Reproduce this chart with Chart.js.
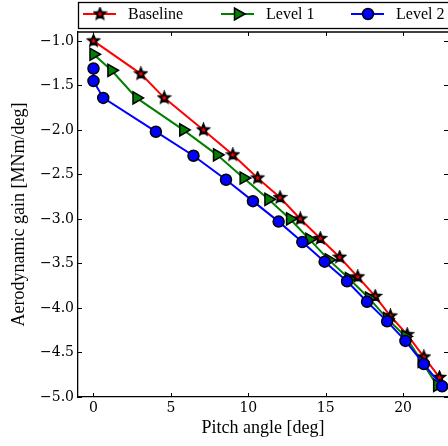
<!DOCTYPE html>
<html>
<head>
<meta charset="utf-8">
<script src="https://cdn.jsdelivr.net/npm/chart.js@4.4.1/dist/chart.umd.min.js"></script>
<style>
  html, body { margin: 0; padding: 0; background: #fff; overflow: hidden; }
  #wrap { width: 448px; height: 446px; }
  canvas { display: block; }
</style>
</head>
<body>
<div id="wrap"><canvas id="chart" width="448" height="446"></canvas></div>
<script>
// Series: pitch angle [deg] vs aerodynamic gain [MNm/deg]
const baselineX = [0, 3.06, 4.57, 7.1, 9.0, 10.6, 12.05, 13.36, 14.65, 15.9, 17.07, 18.2, 19.18, 20.26, 21.34, 22.35];
const baselineY = [-1.0, -1.37, -1.64, -2.0, -2.28, -2.54, -2.76, -3.0, -3.22, -3.43, -3.65, -3.87, -4.09, -4.30, -4.55, -4.78];

const level1X = [0, 1.16, 2.78, 5.8, 7.98, 9.7, 11.3, 12.7, 13.95, 15.2, 16.5, 17.8, 18.97, 20.15, 21.2, 22.2];
const level1Y = [-1.15, -1.33, -1.64, -2.0, -2.28, -2.54, -2.78, -3.0, -3.23, -3.46, -3.67, -3.89, -4.12, -4.32, -4.6, -4.87];

const level2X = [0, 0, 0.63, 4.03, 6.46, 8.56, 10.3, 11.96, 13.49, 14.93, 16.38, 17.67, 18.97, 20.15, 21.34, 22.52];
const level2Y = [-1.31, -1.45, -1.64, -2.02, -2.29, -2.56, -2.80, -3.03, -3.26, -3.48, -3.70, -3.93, -4.15, -4.37, -4.63, -4.88];

const seriesLabels = ['Baseline', 'Level 1', 'Level 2'];
const xTickValues = [0, 5, 10, 15, 20];
const yTickValues = [-5.0, -4.5, -4.0, -3.5, -3.0, -2.5, -2.0, -1.5, -1.0];

const SERIF = '"Liberation Serif", "DejaVu Serif", serif';
const TICKFONT = '"DejaVu Serif", serif';

// build a filled five point star as an image so it looks like the matplotlib '*'
function makeStar(r) {
  const size = Math.ceil(r * 2 + 4);
  const c = document.createElement('canvas');
  c.width = size; c.height = size;
  const g = c.getContext('2d');
  const cx = size / 2, cy = size / 2, inner = r * 0.45;
  g.beginPath();
  for (let i = 0; i < 10; i++) {
    const rad = i % 2 === 0 ? r : inner;
    const a = -Math.PI / 2 + i * Math.PI / 5;
    const px = cx + rad * Math.cos(a), py = cy + rad * Math.sin(a);
    if (i === 0) g.moveTo(px, py); else g.lineTo(px, py);
  }
  g.closePath();
  g.fillStyle = '#ff0000';
  g.fill();
  g.lineWidth = 2;
  g.lineJoin = 'miter';
  g.strokeStyle = '#000';
  g.stroke();
  return c;
}
const starImg = makeStar(5.5);

function toPoints(xs, ys) {
  return xs.map((x, i) => ({ x: x, y: ys[i] }));
}

const datasets = [
  {
    label: seriesLabels[0],
    data: toPoints(baselineX, baselineY),
    borderColor: '#ff0000',
    backgroundColor: '#ff0000',
    borderWidth: 2,
    pointStyle: starImg,
    order: 2
  },
  {
    label: seriesLabels[1],
    data: toPoints(level1X, level1Y),
    borderColor: '#008000',
    backgroundColor: '#008000',
    borderWidth: 2,
    pointStyle: 'triangle',
    pointRotation: 90,
    pointRadius: 7,
    pointBorderColor: '#000',
    pointBorderWidth: 1.5,
    order: 1
  },
  {
    label: seriesLabels[2],
    data: toPoints(level2X, level2Y),
    borderColor: '#0000ff',
    backgroundColor: '#0000ff',
    borderWidth: 2,
    pointStyle: 'circle',
    pointRadius: 5.5,
    pointBorderColor: '#000',
    pointBorderWidth: 1.5,
    order: 0
  }
];

// matplotlib style frame: inward ticks on all four sides plus the top spine
// (the right spine falls just outside the picture in the reference)
const framePlugin = {
  id: 'frame',
  afterDatasetsDraw(chart) {
    const { ctx, chartArea: a, scales } = chart;
    ctx.save();
    ctx.strokeStyle = '#000';
    ctx.lineWidth = 1.3;
    ctx.beginPath();
    ctx.moveTo(a.left, a.top); ctx.lineTo(a.right, a.top);
    ctx.stroke();
    ctx.lineWidth = 1;
    const len = 4;
    scales.x.ticks.forEach(t => {
      const px = Math.round(scales.x.getPixelForValue(t.value)) + 0.5;
      ctx.beginPath();
      ctx.moveTo(px, a.bottom); ctx.lineTo(px, a.bottom - len);
      ctx.moveTo(px, a.top); ctx.lineTo(px, a.top + len);
      ctx.stroke();
    });
    scales.y.ticks.forEach(t => {
      const py = Math.round(scales.y.getPixelForValue(t.value)) + 0.5;
      ctx.beginPath();
      ctx.moveTo(a.left, py); ctx.lineTo(a.left + len, py);
      ctx.moveTo(a.right, py); ctx.lineTo(a.right - len, py);
      ctx.stroke();
    });
    ctx.restore();
  }
};

// legend box sitting above the axes, line + marker samples
const legendPlugin = {
  id: 'boxLegend',
  afterDraw(chart) {
    const { ctx, chartArea: a } = chart;
    ctx.save();
    ctx.strokeStyle = '#000';
    ctx.lineWidth = 1.3;
    ctx.strokeRect(a.left + 0.5, 2.5, 460, 26);
    const cy = 14;
    const starts = [83, 221, 351];
    chart.data.datasets.forEach((ds, i) => {
      const x0 = starts[i];
      ctx.strokeStyle = ds.borderColor;
      ctx.lineWidth = 2;
      ctx.beginPath();
      ctx.moveTo(x0, cy); ctx.lineTo(x0 + 33, cy);
      ctx.stroke();
      const mx = x0 + 17;
      if (i === 0) {
        ctx.drawImage(starImg, mx - starImg.width / 2, cy - starImg.height / 2);
      } else if (i === 1) {
        ctx.beginPath();
        ctx.moveTo(mx + 7, cy);
        ctx.lineTo(mx - 3.5, cy - 6);
        ctx.lineTo(mx - 3.5, cy + 6);
        ctx.closePath();
        ctx.fillStyle = ds.backgroundColor;
        ctx.fill();
        ctx.strokeStyle = '#000';
        ctx.lineWidth = 1.5;
        ctx.stroke();
      } else {
        ctx.beginPath();
        ctx.arc(mx, cy, 5.5, 0, Math.PI * 2);
        ctx.fillStyle = ds.backgroundColor;
        ctx.fill();
        ctx.strokeStyle = '#000';
        ctx.lineWidth = 1.5;
        ctx.stroke();
      }
      ctx.fillStyle = '#000';
      ctx.font = '16px ' + SERIF;
      ctx.textBaseline = 'middle';
      ctx.textAlign = 'left';
      ctx.fillText(ds.label, x0 + 45, cy + 1);
    });
    ctx.restore();
  }
};

new Chart(document.getElementById('chart'), {
  type: 'line',
  data: { datasets: datasets },
  plugins: [framePlugin, legendPlugin],
  options: {
    responsive: false,
    animation: false,
    layout: { autoPadding: false, padding: { top: 32, right: 0, left: 0, bottom: 0 } },
    plugins: {
      legend: { display: false },
      tooltip: { enabled: false }
    },
    scales: {
      x: {
        type: 'linear',
        min: -1,
        max: 22.9,
        afterBuildTicks: s => { s.ticks = xTickValues.map(v => ({ value: v })); },
        afterFit: s => { s.height = 49; s.paddingLeft = 0; s.paddingRight = 0; },
        grid: { display: false, drawTicks: false },
        border: { display: true, color: '#000', width: 1.3 },
        ticks: {
          color: '#000',
          padding: 3,
          maxRotation: 0,
          font: { family: TICKFONT, size: 14 },
          callback: v => String(v)
        },
        title: {
          display: true,
          text: 'Pitch angle [deg]',
          color: '#000',
          font: { family: SERIF, size: 18 },
          padding: { top: 0, bottom: 7 }
        }
      },
      y: {
        type: 'linear',
        min: -5.0,
        max: -0.9,
        afterBuildTicks: s => { s.ticks = yTickValues.map(v => ({ value: v })); },
        afterFit: s => { s.width = 78; },
        grid: { display: false, drawTicks: false },
        border: { display: true, color: '#000', width: 1.3 },
        ticks: {
          color: '#000',
          padding: 4,
          font: { family: TICKFONT, size: 14 },
          callback: v => v.toFixed(1).replace('-', '\u2212')
        },
        title: {
          display: true,
          text: 'Aerodynamic gain [MNm/deg]',
          color: '#000',
          font: { family: SERIF, size: 18 },
          padding: { top: 8, bottom: 0 }
        }
      }
    }
  }
});
</script>
</body>
</html>
